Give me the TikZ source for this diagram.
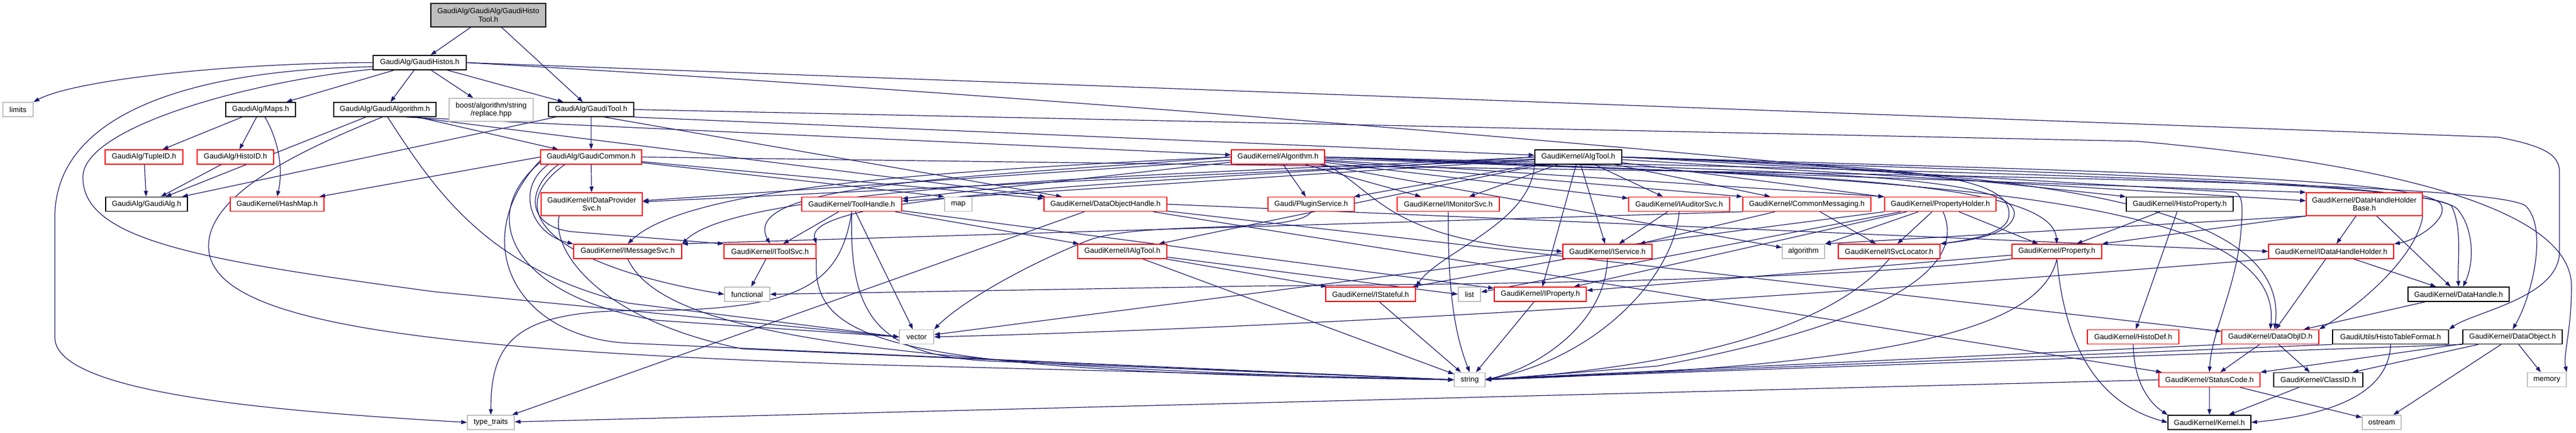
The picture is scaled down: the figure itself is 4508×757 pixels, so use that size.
\documentclass[tikz,border=0pt]{standalone}
\usepackage{fontspec}
\setmainfont{Liberation Sans}
\usetikzlibrary{arrows.meta,backgrounds}
\definecolor{edgeblue}{RGB}{25,25,112}
\definecolor{greyb}{RGB}{191,191,191}
\definecolor{redb}{RGB}{255,0,0}
\tikzset{
  nb/.style={draw=black, line width=1.5pt, fill=white, inner sep=0pt, font={\fontsize{13}{14.5}\selectfont}, align=center},
  nr/.style={nb, draw=redb},
  ng/.style={nb, draw=greyb},
  ntop/.style={nb, fill=greyb},
  edg/.style={draw=edgeblue, line width=1.2pt, -{Triangle[length=10pt,width=7pt]}},
}
\newcommand{\gnode}[7]{\node[#1, minimum width=#5pt, minimum height=#6pt] (#2) at (#3,#4) {#7};}
\begin{document}
\begin{tikzpicture}[x=1pt,y=-1pt]
\useasboundingbox (0,0) rectangle (4508,757);
% ---------------- nodes ----------------
\gnode{ntop}{top}{854.5}{26.5}{201}{41}{GaudiAlg/GaudiAlg/GaudiHisto\\Tool.h}
\gnode{nb}{histos}{734.5}{109.5}{163}{25}{GaudiAlg/GaudiHistos.h}
\gnode{ng}{limits}{31.5}{191.5}{53}{25}{limits}
\gnode{nb}{maps}{456}{191.5}{122}{25}{GaudiAlg/Maps.h}
\gnode{nb}{galgo}{673.5}{191.5}{179}{25}{GaudiAlg/GaudiAlgorithm.h}
\gnode{ng}{boost}{859.5}{192}{147}{40}{boost/algorithm/string\\/replace.hpp}
\gnode{nb}{gtool}{1034.5}{191.5}{149}{25}{GaudiAlg/GaudiTool.h}
\gnode{nr}{tupleid}{252}{274.5}{136}{25}{GaudiAlg/TupleID.h}
\gnode{nr}{histoid}{412}{274.5}{134}{25}{GaudiAlg/HistoID.h}
\gnode{nr}{gcommon}{1034.5}{274.5}{177}{25}{GaudiAlg/GaudiCommon.h}
\gnode{nr}{algorithmh}{2236.5}{274.5}{163}{25}{GaudiKernel/Algorithm.h}
\gnode{nb}{algtool}{2762}{274.5}{152}{25}{GaudiKernel/AlgTool.h}
\gnode{nb}{gaudialg}{256.5}{357}{143}{25}{GaudiAlg/GaudiAlg.h}
\gnode{nr}{hashmap}{485}{357}{164}{25}{GaudiKernel/HashMap.h}
\gnode{nr}{idps}{1035.5}{357}{177}{40}{GaudiKernel/IDataProvider\\Svc.h}
\gnode{nr}{toolhandle}{1490.5}{357}{175}{25}{GaudiKernel/ToolHandle.h}
\gnode{ng}{map}{1677}{357}{48}{25}{map}
\gnode{nr}{doh}{1934.5}{357}{215}{25}{GaudiKernel/DataObjectHandle.h}
\gnode{nr}{plugin}{2294.5}{357}{151}{25}{Gaudi/PluginService.h}
\gnode{nr}{imon}{2534.5}{357}{179}{25}{GaudiKernel/IMonitorSvc.h}
\gnode{nr}{iaud}{2938.5}{357}{177}{25}{GaudiKernel/IAuditorSvc.h}
\gnode{nr}{commsg}{3162}{357}{224}{25}{GaudiKernel/CommonMessaging.h}
\gnode{nr}{propholder}{3395.5}{357}{195}{25}{GaudiKernel/PropertyHolder.h}
\gnode{nb}{histoprop}{3814.5}{357}{187}{25}{GaudiKernel/HistoProperty.h}
\gnode{nr}{dhhb}{4137.5}{357}{203}{40}{GaudiKernel/DataHandleHolder\\Base.h}
\gnode{nr}{imsg}{1098.5}{439.5}{189}{25}{GaudiKernel/IMessageSvc.h}
\gnode{nr}{itoolsvc}{1347.5}{439.5}{161}{25}{GaudiKernel/IToolSvc.h}
\gnode{nr}{ialgtool}{1964}{439.5}{156}{25}{GaudiKernel/IAlgTool.h}
\gnode{nr}{iservice}{2813}{439.5}{156}{25}{GaudiKernel/IService.h}
\gnode{ng}{algstd}{3156}{439.5}{74}{25}{algorithm}
\gnode{nr}{isvcloc}{3306}{439.5}{178}{25}{GaudiKernel/ISvcLocator.h}
\gnode{nr}{property}{3599.5}{439.5}{157}{25}{GaudiKernel/Property.h}
\gnode{nr}{idhh}{4079.5}{439.5}{219}{25}{GaudiKernel/IDataHandleHolder.h}
\gnode{ng}{functional}{1307.5}{514.5}{79}{25}{functional}
\gnode{nr}{istateful}{2398.5}{514.5}{157}{25}{GaudiKernel/IStateful.h}
\gnode{ng}{list}{2571.5}{514.5}{39}{25}{list}
\gnode{nr}{iproperty}{2695.5}{514.5}{161}{25}{GaudiKernel/IProperty.h}
\gnode{nb}{datahandle}{4302.5}{514.5}{177}{25}{GaudiKernel/DataHandle.h}
\gnode{ng}{vector}{1604}{589}{60}{25}{vector}
\gnode{nr}{histodef}{3733}{589}{160}{25}{GaudiKernel/HistoDef.h}
\gnode{nr}{dataobjid}{3973}{589}{170}{25}{GaudiKernel/DataObjID.h}
\gnode{nb}{htf}{4183.5}{589}{203}{25}{GaudiUtils/HistoTableFormat.h}
\gnode{nb}{dataobject}{4397}{589}{174}{25}{GaudiKernel/DataObject.h}
\gnode{ng}{string}{2572}{664}{54}{25}{string}
\gnode{nr}{statuscode}{3866.5}{664}{177}{25}{GaudiKernel/StatusCode.h}
\gnode{nb}{classid}{4057}{664}{156}{25}{GaudiKernel/ClassID.h}
\gnode{ng}{memory}{4457}{664}{68}{25}{memory}
\gnode{ng}{typetraits}{859}{738.5}{82}{25}{type\_traits}
\gnode{nb}{kernel}{3866.5}{738.5}{145}{25}{GaudiKernel/Kernel.h}
\gnode{ng}{ostream}{4168}{738.5}{68}{25}{ostream}
% ---------------- edges ----------------
\begin{pgfonlayer}{background}
\fill[white] (0,0) rectangle (4508,757);
% top
\draw[edg] (top) -- (histos);
\draw[edg] (top) -- (gtool);
% GaudiHistos
\draw[edg] (histos.west) .. controls (400,110) and (130,140) .. (limits.north east);
\draw[edg] (histos.185) .. controls (330,122) and (96,200) .. (96,380) -- (96,590) .. controls (96,690) and (500,720) .. (typetraits.west);
\draw[edg] (histos.188) .. controls (450,140) and (145,220) .. (145,310) .. controls (145,420) and (350,455) .. (760,510) -- (vector.west);
\draw[edg] (histos) -- (maps);
\draw[edg] (histos) -- (galgo);
\draw[edg] (histos) -- (boost);
\draw[edg] (histos) -- (gtool);
\draw[edg] (histos.east) -- (4373,240) .. controls (4445,254) and (4479,268) .. (4479,300) -- (4479,440) .. controls (4479,520) and (4330,545) .. (htf.north east);
\draw[edg] (histos.east) .. controls (1800,165) and (3000,265) .. (histoprop.north west);
% Maps
\draw[edg] (maps) -- (tupleid);
\draw[edg] (maps) -- (histoid);
\draw[edg] (maps.300) .. controls (490,250) and (495,300) .. (hashmap.north);
\draw[edg] (tupleid) -- (gaudialg);
\draw[edg] (histoid) -- (gaudialg);
% GaudiAlgorithm
\draw[edg] (galgo) -- (gaudialg);
\draw[edg] (galgo) -- (gcommon);
\draw[edg] (galgo.340) -- (algorithmh);
\draw[edg] (galgo.345) -- (doh);
\draw[edg] (galgo.290) .. controls (760,330) and (850,470) .. (1100,530) -- (vector.west);
\draw[edg] (galgo.250) .. controls (560,250) and (365,330) .. (365,430) .. controls (365,560) and (700,610) .. (1500,637) -- (string.west);
% GaudiTool
\draw[edg] (gtool) -- (gaudialg);
\draw[edg] (gtool) -- (gcommon);
\draw[edg] (gtool.350) -- (algtool);
\draw[edg] (gtool.330) -- (doh);
\draw[edg] (gtool.east) -- (3740,247) .. controls (4250,292) and (4500,380) .. (4500,500) .. controls (4500,580) and (4485,620) .. (memory.north east);
% GaudiCommon
\draw[edg] (gcommon.west) -- (hashmap);
\draw[edg] (gcommon) -- (idps);
\draw[edg] (gcommon.190) .. controls (900,330) and (930,410) .. (imsg.north west);
\draw[edg] (gcommon.193) .. controls (920,330) and (920,395) .. (1000,405) -- (itoolsvc.north west);
\draw[edg] (gcommon.196) .. controls (860,380) and (1000,470) .. (functional.west);
\draw[edg] (gcommon.186) .. controls (830,380) and (900,520) .. (1150,560) -- (vector.west);
\draw[edg] (gcommon.184) .. controls (815,420) and (900,590) .. (1100,600) -- (string.west);
\draw[edg] (gcommon) -- (map.north west);
\draw[edg] (gcommon) -- (doh);
\draw[edg] (gcommon.east) .. controls (3000,300) and (4350,310) .. (4420,360) .. controls (4460,400) and (4430,520) .. (dataobject.north);
% IDataProviderSvc
\draw[edg] (idps.200) .. controls (965,440) and (1050,560) .. (1300,610) -- (string.west);
% Algorithm.h
\draw[edg] (algorithmh) -- (toolhandle);
\draw[edg] (algorithmh) -- (idps);
\draw[edg] (algorithmh.west) .. controls (1600,300) and (1200,330) .. (imsg.north);
\draw[edg] (algorithmh.west) .. controls (1700,310) and (1290,320) .. (itoolsvc.north);
\draw[edg] (algorithmh) -- (plugin);
\draw[edg] (algorithmh) -- (imon);
\draw[edg] (algorithmh) -- (iaud);
\draw[edg] (algorithmh) -- (commsg.north west);
\draw[edg] (algorithmh) -- (propholder.north west);
\draw[edg] (algorithmh) -- (dhhb.north west);
\draw[edg] (algorithmh.south east) .. controls (2410,330) and (2420,420) .. (iservice.west);
\draw[edg] (algorithmh.east) .. controls (3100,300) and (3530,300) .. (3525,375) .. controls (3520,410) and (3450,420) .. (isvcloc.north east);
\draw[edg] (algorithmh.east) .. controls (3000,305) and (3590,300) .. (property.north);
\draw[edg] (algorithmh) -- (algstd);
\draw[edg] (algorithmh.east) .. controls (3400,300) and (4230,315) .. (4290,360) .. controls (4310,400) and (4300,460) .. (datahandle.north);
\draw[edg] (algorithmh.east) .. controls (3300,310) and (4000,330) .. (dataobjid.north);
% AlgTool.h
\draw[edg] (algtool) -- (toolhandle);
\draw[edg] (algtool) -- (idps);
\draw[edg] (algtool.west) .. controls (2100,305) and (1300,320) .. (imsg.north east);
\draw[edg] (algtool.west) .. controls (2100,315) and (1400,335) .. (itoolsvc.north east);
\draw[edg] (algtool) -- (plugin);
\draw[edg] (algtool) -- (imon);
\draw[edg] (algtool) -- (iaud);
\draw[edg] (algtool) -- (commsg);
\draw[edg] (algtool) -- (propholder);
\draw[edg] (algtool) -- (dhhb);
\draw[edg] (algtool) -- (iservice);
\draw[edg] (algtool.south west) .. controls (2680,390) and (2520,440) .. (istateful.north east);
\draw[edg] (algtool) -- (iproperty);
\draw[edg] (algtool) -- (ialgtool);
\draw[edg] (algtool.east) .. controls (3300,290) and (3530,300) .. (3515,380) .. controls (3510,410) and (3440,420) .. (isvcloc.north east);
\draw[edg] (algtool.east) .. controls (3700,300) and (4220,310) .. (4270,355) .. controls (4290,380) and (4230,420) .. (idhh.north east);
\draw[edg] (algtool.east) .. controls (3450,300) and (4240,312) .. (4300,365) .. controls (4330,400) and (4330,460) .. (datahandle.60);
\draw[edg] (algtool.east) .. controls (3500,300) and (4010,340) .. (dataobjid.60);
\draw[edg] (algtool.east) .. controls (3300,300) and (3800,330) .. (3910,336) .. controls (3925,340) and (3925,360) .. (3922,400) .. controls (3915,500) and (3870,580) .. (statuscode.north);
% ToolHandle
\draw[edg] (toolhandle) -- (itoolsvc);
\draw[edg] (toolhandle) -- (ialgtool);
\draw[edg] (toolhandle) -- (vector);
\draw[edg] (toolhandle) -- (iproperty);
\draw[edg] (toolhandle.south) .. controls (1470,500) and (1400,545) .. (1100,543) .. controls (900,546) and (859,600) .. (typetraits.north);
\draw[edg] (toolhandle.south) .. controls (1485,560) and (1540,625) .. (1750,632) -- (string.west);
% DataObjectHandle
\draw[edg] (doh) -- (typetraits);
\draw[edg] (doh) -- (statuscode);
\draw[edg] (doh) -- (dataobjid);
\draw[edg] (doh.east) -- (idhh.west);
% PluginService, IMonitorSvc, IAuditorSvc
\draw[edg] (plugin.south) .. controls (2270,410) and (2000,385) .. (1905,420) .. controls (1790,465) and (1680,530) .. (vector.north east);
\draw[edg] (imon.south) .. controls (2534,480) and (2540,570) .. (string.north);
\draw[edg] (iaud) -- (iservice);
\draw[edg] (iaud.south) .. controls (2930,480) and (2800,625) .. (string.east);
% CommonMessaging
\draw[edg] (commsg.south west) -- (imsg.north east);
\draw[edg] (commsg) -- (iservice);
\draw[edg] (commsg) -- (isvcloc);
% PropertyHolder
\draw[edg] (propholder) -- (algstd);
\draw[edg] (propholder) -- (isvcloc);
\draw[edg] (propholder) -- (property);
\draw[edg] (propholder) -- (iproperty);
\draw[edg] (propholder) -- (list);
\draw[edg] (propholder.south west) -- (vector);
\draw[edg] (propholder.290) .. controls (3440,460) and (3330,560) .. (2900,640) -- (string.east);
% HistoProperty
\draw[edg] (histoprop) -- (histodef);
\draw[edg] (histoprop) -- (property);
% DataHandleHolderBase
\draw[edg] (dhhb) -- (idhh);
\draw[edg] (dhhb) -- (datahandle);
\draw[edg] (dhhb.south east) .. controls (4230,440) and (4150,520) .. (dataobjid.north east);
\draw[edg] (dhhb.south west) -- (algstd.north east);
\draw[edg] (dhhb.south west) -- (property.north east);
% row 4
\draw[edg] (imsg.south) .. controls (1150,560) and (1400,640) .. (string.west);
\draw[edg] (itoolsvc) -- (functional);
\draw[edg] (itoolsvc.south east) .. controls (1420,600) and (1550,650) .. (string.west);
\draw[edg] (ialgtool) -- (istateful);
\draw[edg] (ialgtool) -- (list.west);
\draw[edg] (ialgtool) -- (string);
\draw[edg] (iservice) -- (istateful);
\draw[edg] (iservice.south) .. controls (2810,560) and (2700,640) .. (string.east);
\draw[edg] (isvcloc.south) .. controls (3250,520) and (3100,630) .. (string.east);
\draw[edg] (property.south west) .. controls (3300,480) and (2900,495) .. (2200,500) -- (functional.east);
\draw[edg] (property.south) .. controls (3570,580) and (3300,640) .. (string.east);
\draw[edg] (property.south) .. controls (3610,570) and (3650,700) .. (kernel.west);
\draw[edg] (property) -- (iproperty);
\draw[edg] (idhh) -- (datahandle);
\draw[edg] (idhh) -- (dataobjid);
\draw[edg] (idhh.south west) .. controls (3400,500) and (2400,570) .. (vector.east);
% row 5
\draw[edg] (istateful) -- (string);
\draw[edg] (iproperty) -- (string);
\draw[edg] (datahandle) -- (dataobjid);
% row 6
\draw[edg] (histodef.south) .. controls (3735,680) and (3770,710) .. (kernel.north west);
\draw[edg] (dataobjid) -- (statuscode);
\draw[edg] (dataobjid) -- (classid);
\draw[edg] (dataobjid.south west) -- (string);
\draw[edg] (htf.south) .. controls (4180,700) and (4050,728) .. (kernel.east);
\draw[edg] (htf.south west) -- (string);
\draw[edg] (dataobject) -- (classid);
\draw[edg] (dataobject) -- (statuscode.north east);
\draw[edg] (dataobject) -- (memory);
\draw[edg] (dataobject) -- (ostream);
\draw[edg] (dataobject.south west) -- (string);
% row 7
\draw[edg] (statuscode) -- (kernel);
\draw[edg] (statuscode) -- (ostream);
\draw[edg] (statuscode.west) -- (typetraits);
\draw[edg] (classid) -- (kernel);
\end{pgfonlayer}
\end{tikzpicture}
\end{document}
